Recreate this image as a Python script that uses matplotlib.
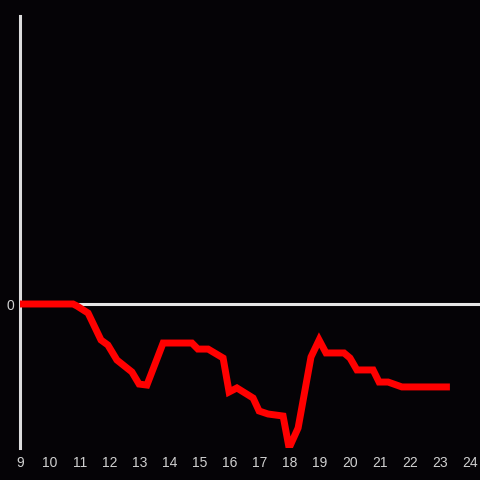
import matplotlib
matplotlib.use("Agg")
import matplotlib.pyplot as plt

# hours (x) and values (y, arbitrary units, 0 baseline)
hours = [9.0, 10.77, 10.9, 11.27, 11.7, 11.93, 12.23, 12.73, 12.97, 13.23,
         13.77, 14.73, 14.93, 15.27, 15.77, 15.97, 16.23, 16.77, 16.97, 17.27,
         17.77, 17.97, 18.27, 18.7, 18.97, 19.2, 19.8, 20.0, 20.23, 20.77,
         20.97, 21.27, 21.73, 23.33]
values = [0.0, 0.0, -1.4, -6.3, -25.0, -28.5, -38.9, -47.2, -55.6, -56.3,
          -27.1, -27.1, -31.3, -31.3, -37.5, -61.1, -58.3, -65.3, -74.3, -76.4,
          -77.8, -100.0, -86.1, -36.8, -25.0, -34.0, -34.0, -37.5, -45.8, -45.8,
          -54.2, -54.2, -57.6, -57.6]
xticks = list(range(9, 25))

bg = "#050306"
fig = plt.figure(figsize=(4.8, 4.8), dpi=100, facecolor=bg)
ax = fig.add_axes([20/480, 32/480, 460/480, 432/480], facecolor=bg)

ax.set_xlim(9, 9 + 460/30)
ax.set_ylim(-100, 200)

ax.axhline(0, color="#e6e6e6", lw=2.2, zorder=1)
ax.plot(hours, values, color="#ff0000", lw=5.0, solid_joinstyle="miter",
        solid_capstyle="butt", zorder=3)

for s in ["top", "right", "bottom"]:
    ax.spines[s].set_visible(False)
ax.spines["left"].set_color("#dcdcdc")
ax.spines["left"].set_linewidth(2.2)

ax.set_xticks(xticks)
ax.set_xticklabels([str(t) for t in xticks])
ax.set_yticks([0])
ax.set_yticklabels(["0"])
ax.tick_params(axis="both", length=0, colors="#d0d0d0", labelsize=10)
ax.tick_params(axis="x", pad=6)
ax.tick_params(axis="y", pad=4)
for lab in ax.get_xticklabels() + ax.get_yticklabels():
    lab.set_family(["Liberation Sans", "DejaVu Sans"])

fig.savefig("out.png", dpi=100, facecolor=bg)
